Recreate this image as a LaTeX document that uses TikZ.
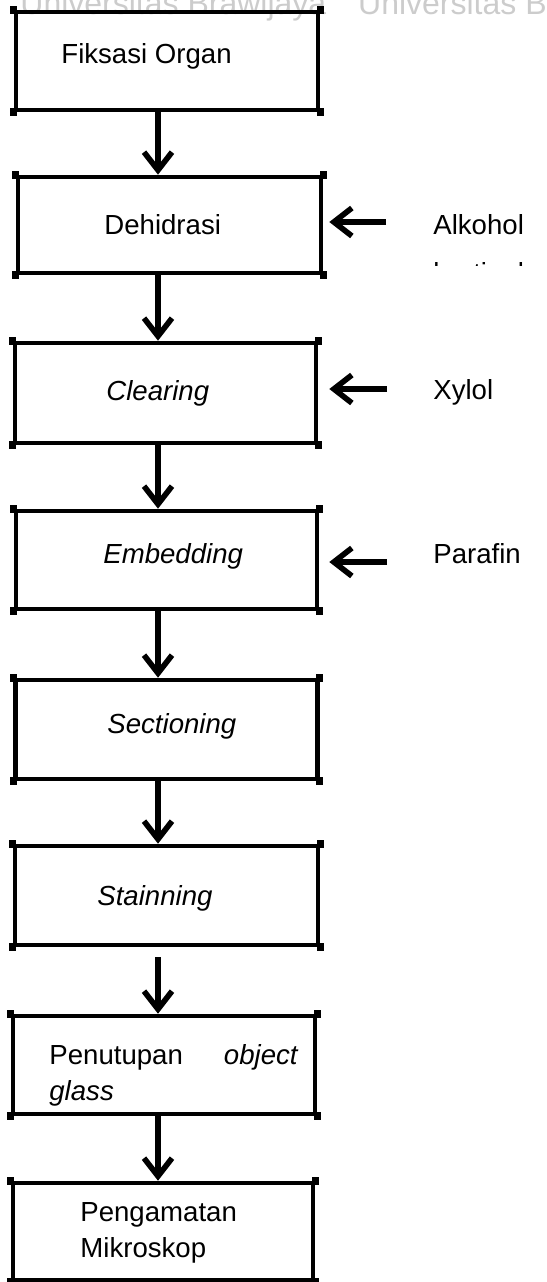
\documentclass[tikz,border=0pt]{standalone}
\usepackage{fontspec}
\setmainfont{Liberation Sans}
\usetikzlibrary{arrows.meta}
\begin{document}
\begin{tikzpicture}[x=0.5pt, y=-0.5pt,
  bx/.style 2 args={draw, line width=2.3pt, minimum width=#1*0.5pt, minimum height=#2*0.5pt, inner sep=0pt},
  txt/.style={anchor=base west, inner sep=0pt, font=\fontsize{13.8pt}{18pt}\selectfont},
  itxt/.style={txt, font=\fontsize{13.8pt}{18pt}\selectfont\itshape},
  arr/.style={line width=2.8pt, -{Straight Barb[length=9pt, width=14pt, line width=2.8pt]}},
  wm/.style={anchor=base west, inner sep=0pt, text=black!20, font=\fontsize{16pt}{18pt}\selectfont}]
\useasboundingbox (0,0) rectangle (547,1282);
% watermark (cut at the top edge)
\node[wm] (wm1) at (20,14) {Universitas Brawijaya\quad Universitas Brawijaya};
% boxes
\node[bx={302}{98}] (b1) at (167,61) {};
\node[bx={303}{96}] (b2) at (169.5,225) {};
\node[bx={301}{100}] (b3) at (165.5,393) {};
\node[bx={301}{98}] (b4) at (166.5,560) {};
\node[bx={302}{99}] (b5) at (166.5,729.5) {};
\node[bx={303}{99}] (b6) at (166.5,895.5) {};
\node[bx={302}{98}] (b7) at (164,1065) {};
\node[bx={300}{97}] (b8) at (163,1231.5) {};
\foreach \n in {b1,b2,b3,b4,b5,b6,b7,b8}
  \foreach \c in {north west,north east,south west,south east}
    \fill (\n.\c) ++(-3.5,-4) rectangle ++(7,8);
% texts
\node[txt] (t1) at (61,63) {Fiksasi Organ};
\node[txt] (t2) at (104,234) {Dehidrasi};
\node[itxt] (t3) at (106,400) {Clearing};
\node[itxt] (t4) at (103,563) {Embedding};
\node[itxt] (t5) at (107,733) {Sectioning};
\node[itxt] (t6) at (97,905) {Stainning};
\node[txt] (t7a) at (49,1064) {Penutupan};
\node[itxt, anchor=base east] (t7b) at (298,1064) {object};
\node[itxt] (t7c) at (49,1100) {glass};
\node[txt] (t8a) at (80,1221) {Pengamatan};
\node[txt] (t8b) at (80,1257) {Mikroskop};
% side inputs
\node[txt] (alk) at (433,234) {Alkohol};
\begin{scope}
  \clip (400,200) rectangle (547,265);
  \node[txt] (bert) at (433,282) {bertingkat};
\end{scope}
\node[txt] (xyl) at (433,399) {Xylol};
\node[txt] (par) at (433,563) {Parafin};
% down arrows
\coordinate (ax) at (158,0);
\draw[arr] (b1.south -| ax) -- (b2.north -| ax);
\draw[arr] (b2.south -| ax) -- (b3.north -| ax);
\draw[arr] (b3.south -| ax) -- (b4.north -| ax);
\draw[arr] (b4.south -| ax) -- (b5.north -| ax);
\draw[arr] (b5.south -| ax) -- (b6.north -| ax);
\draw[arr, shorten <=5pt] (b6.south -| ax) -- (b7.north -| ax);
\draw[arr] (b7.south -| ax) -- (b8.north -| ax);
% side arrows
\coordinate (s1) at (386,222);
\coordinate (s2) at (387,389);
\coordinate (s3) at (387,562);
\draw[arr, shorten >=3pt] (s1) -- (s1 -| b2.east);
\draw[arr, shorten >=5.5pt] (s2) -- (s2 -| b3.east);
\draw[arr, shorten >=5pt] (s3) -- (s3 -| b4.east);
\end{tikzpicture}
\end{document}
